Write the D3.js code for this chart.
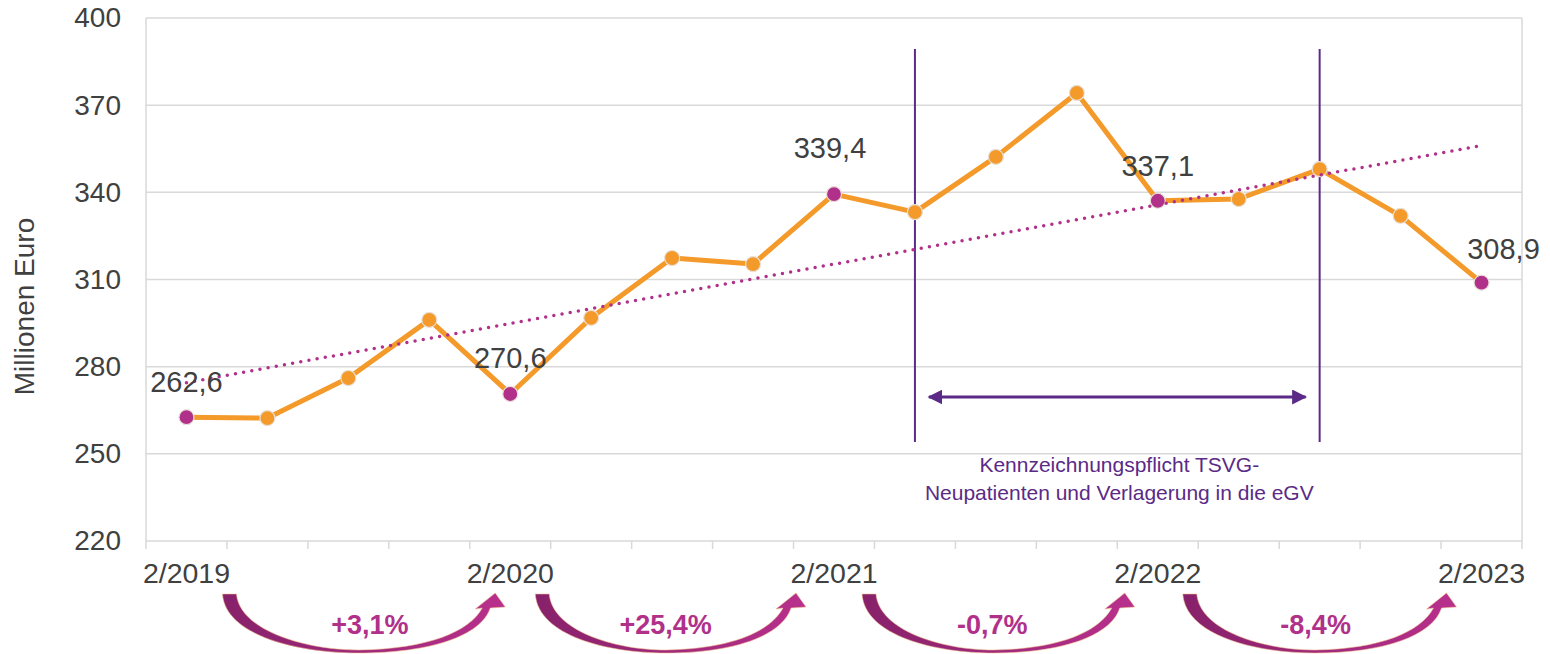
<!DOCTYPE html>
<html>
<head>
<meta charset="utf-8">
<script src="https://cdn.jsdelivr.net/npm/d3@7/dist/d3.min.js"></script>
<style>
  html, body { margin: 0; padding: 0; background: #fff; }
  svg { display: block; font-family: "Liberation Sans", Arial, sans-serif; }
</style>
</head>
<body>
<svg id="chart" width="1550" height="654"></svg>
<script>
// ---- data ----
const quarters = ["2/2019","3/2019","4/2019","1/2020","2/2020","3/2020","4/2020","1/2021","2/2021",
                  "3/2021","4/2021","1/2022","2/2022","3/2022","4/2022","1/2023","2/2023"];
const values = [262.6, 262.3, 276.1, 296.1, 270.6, 296.8, 317.4, 315.3, 339.4,
                333.2, 352.2, 374.2, 337.1, 337.7, 348.0, 331.9, 308.9];
const shownTickLabels = ["2/2019","2/2020","2/2021","2/2022","2/2023"];
const highlighted = ["2/2019","2/2020","2/2021","2/2022","2/2023"];
const yTicks = [220, 250, 280, 310, 340, 370, 400];
const changeLabels = ["+3,1%", "+25,4%", "-0,7%", "-8,4%"];
const periodStart = "3/2021";
const periodEnd = "4/2022";
const periodText = ["Kennzeichnungspflicht TSVG-", "Neupatienten und Verlagerung in die eGV"];
const yTitle = "Millionen Euro";

// ---- layout ----
const svg = d3.select("#chart");
const L = 146, R = 1522, T = 18, B = 541;
const x = d3.scaleBand().domain(quarters).range([L, R]).paddingInner(0).paddingOuter(0);
const cx = q => x(q) + x.bandwidth() / 2;
const y = d3.scaleLinear().domain([220, 400]).range([B, T]);

const textCol = "#404040", gridCol = "#d9d9d9";
const orange = "#f39a2b", magenta = "#b0308a", purple = "#5b2a86";

// defs
const defs = svg.append("defs");
const grad = defs.append("linearGradient").attr("id", "arrGrad")
  .attr("x1", "0%").attr("x2", "100%").attr("y1", "0%").attr("y2", "0%");
grad.append("stop").attr("offset", "0%").attr("stop-color", "#87216a");
grad.append("stop").attr("offset", "100%").attr("stop-color", "#b8308d");
defs.append("marker").attr("id", "ah").attr("viewBox", "0 0 10 10").attr("refX", 9).attr("refY", 5)
  .attr("markerWidth", 5).attr("markerHeight", 5).attr("orient", "auto-start-reverse")
  .attr("markerUnits", "strokeWidth")
  .append("path").attr("d", "M0,0 L10,5 L0,10 Z").attr("fill", purple);

// gridlines
svg.append("g").selectAll("line").data(yTicks).join("line")
  .attr("x1", L).attr("x2", R).attr("y1", d => y(d)).attr("y2", d => y(d))
  .attr("stroke", gridCol).attr("stroke-width", 1.5);
// left & right frame
svg.append("line").attr("x1", L).attr("x2", L).attr("y1", T).attr("y2", B).attr("stroke", gridCol).attr("stroke-width", 1.5);
svg.append("line").attr("x1", R).attr("x2", R).attr("y1", T).attr("y2", B).attr("stroke", gridCol).attr("stroke-width", 1.5);

// y axis
const yAxis = svg.append("g").attr("transform", `translate(${L},0)`)
  .call(d3.axisLeft(y).tickValues(yTicks).tickSize(0).tickPadding(25).tickFormat(d3.format("d")));
yAxis.select(".domain").remove();
yAxis.selectAll("text").attr("fill", textCol).attr("font-size", 28);

// x axis ticks at band boundaries
const boundaries = quarters.map(q => x(q)).concat([R]);
svg.append("g").selectAll("line").data(boundaries).join("line")
  .attr("x1", d => d).attr("x2", d => d).attr("y1", B).attr("y2", B + 8)
  .attr("stroke", gridCol).attr("stroke-width", 1.5);
const xAxis = svg.append("g").attr("transform", `translate(0,${B})`)
  .call(d3.axisBottom(x).tickValues(shownTickLabels).tickSize(0).tickPadding(0));
xAxis.select(".domain").remove();
xAxis.selectAll("text").attr("fill", textCol).attr("font-size", 28.5).attr("dy", null).attr("y", 42);

// y title
svg.append("text").attr("transform", `translate(34,${(T + B) / 2 + 27}) rotate(-90)`)
  .attr("text-anchor", "middle").attr("fill", textCol).attr("font-size", 28).text(yTitle);

// period vertical lines
[periodStart, periodEnd].forEach(q => {
  svg.append("line").attr("x1", cx(q)).attr("x2", cx(q)).attr("y1", 49).attr("y2", 442)
    .attr("stroke", purple).attr("stroke-width", 2);
});
svg.append("line").attr("x1", cx(periodStart) + 14).attr("x2", cx(periodEnd) - 14)
  .attr("y1", 397).attr("y2", 397).attr("stroke", purple).attr("stroke-width", 3)
  .attr("marker-start", "url(#ah)").attr("marker-end", "url(#ah)");
const pMid = (cx(periodStart) + cx(periodEnd)) / 2;
svg.append("text").attr("x", pMid + 2).attr("y", 472).attr("text-anchor", "middle")
  .attr("fill", purple).attr("font-size", 21).text(periodText[0]);
svg.append("text").attr("x", pMid + 2).attr("y", 500).attr("text-anchor", "middle")
  .attr("fill", purple).attr("font-size", 21).text(periodText[1]);

// line
svg.append("path").datum(values)
  .attr("d", d3.line().x((d, i) => cx(quarters[i])).y(d => y(d)))
  .attr("fill", "none").attr("stroke", orange).attr("stroke-width", 5).attr("stroke-linejoin", "round");

// markers
svg.append("g").selectAll("circle").data(values).join("circle")
  .attr("cx", (d, i) => cx(quarters[i])).attr("cy", d => y(d)).attr("r", 7.5)
  .attr("fill", (d, i) => highlighted.includes(quarters[i]) ? magenta : orange)
  .attr("stroke", "#e8e0d8").attr("stroke-width", 1.2);

// trend (linear regression computed from values)
const n = values.length;
const mx = d3.mean(values, (d, i) => i), my = d3.mean(values);
const slope = d3.sum(values, (d, i) => (i - mx) * (d - my)) / d3.sum(values, (d, i) => (i - mx) * (i - mx));
const icpt = my - slope * mx;
svg.append("line")
  .attr("x1", cx(quarters[0])).attr("y1", y(icpt))
  .attr("x2", cx(quarters[n - 1])).attr("y2", y(icpt + slope * (n - 1)))
  .attr("stroke", magenta).attr("stroke-width", 3.5).attr("stroke-linecap", "round")
  .attr("stroke-dasharray", "0 8.3");

// data labels for highlighted points
const labelOffset = { "2/2019": [0, -25], "2/2020": [0, -26], "2/2021": [-4, -36], "2/2022": [0, -25], "2/2023": [22, -24] };
svg.append("g").selectAll("text").data(highlighted).join("text")
  .attr("x", q => cx(q) + labelOffset[q][0])
  .attr("y", q => y(values[quarters.indexOf(q)]) + labelOffset[q][1])
  .attr("text-anchor", "middle").attr("fill", textCol).attr("font-size", 29)
  .text(q => d3.format(".1f")(values[quarters.indexOf(q)]).replace(".", ","));

// curved change arrows
const arrowSpan = [[36, -15, 11], [25, -38, 0], [28, -33, -1], [25, -35, 1]]; // start offset, tip offset, label dx
const arrowG = svg.append("g");
changeLabels.forEach((lab, k) => {
  const x0 = cx(highlighted[k]) + arrowSpan[k][0];
  const x1 = cx(highlighted[k + 1]) + arrowSpan[k][1];
  const W = x1 - x0;
  const top = 594;
  const p = `M${x0},${top}
    C${x0 + 3},${top + 42} ${x0 + 0.28 * W},${top + 59} ${x0 + 0.5 * W},${top + 59}
    C${x0 + 0.76 * W},${top + 59} ${x1 - 14},${top + 42} ${x1 - 5},${top + 14}
    L${x1 + 10},${top + 13} L${x1},${top - 1} L${x1 - 20},${top + 15} L${x1 - 13},${top + 14}
    C${x1 - 26},${top + 38} ${x0 + 0.75 * W},${top + 55} ${x0 + 0.5 * W},${top + 56}
    C${x0 + 0.3 * W},${top + 56} ${x0 + 17},${top + 36} ${x0 + 14},${top} Z`;
  arrowG.append("path").attr("d", p).attr("fill", "url(#arrGrad)")
    .attr("stroke", "#f2c08e").attr("stroke-width", 0.8).attr("stroke-opacity", 0.7);
  arrowG.append("text").attr("x", x0 + W / 2 + arrowSpan[k][2]).attr("y", 634).attr("text-anchor", "middle")
    .attr("fill", magenta).attr("font-size", 27).attr("font-weight", "bold").text(lab);
});
</script>
</body>
</html>
